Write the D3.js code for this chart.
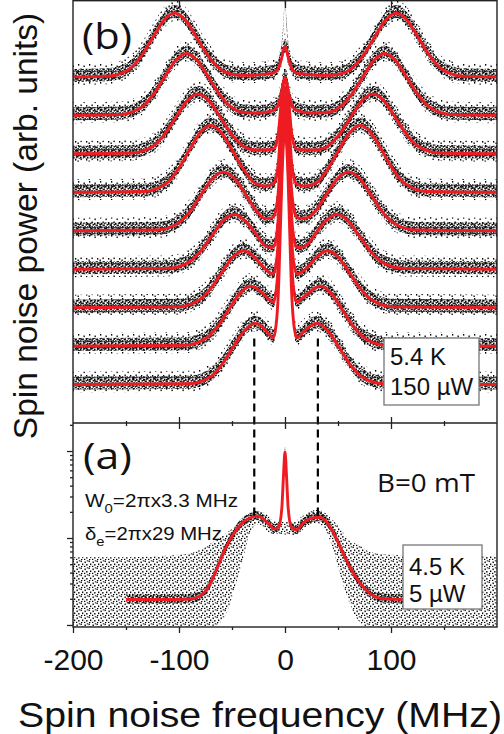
<!DOCTYPE html>
<html><head><meta charset="utf-8">
<script src="https://cdn.jsdelivr.net/npm/d3@7"></script>
<style>body{margin:0;background:#fff}svg{display:block}</style>
</head><body><svg id="c" width="504" height="734"></svg>
<script>
// ---------- data ----------
const xTicksMajor = [-200, -100, 0, 100];
const xTicksMinor = [-150, -50, 50, 150];
const xTickLabels = ["-200", "-100", "0", "100"];
const topTicks = [-100, 0, 100];
const logTicksMajor = [0.1, 1, 10];
const logTicksMinor = [0.2,0.3,0.4,0.5,0.6,0.7,0.8,0.9,2,3,4,5,6,7,8,9,20];

// panel (b): vertical offsets of the stacked spectra (top to bottom)
const offsetsB = [9, 8, 7, 6, 5, 4, 3, 2, 1];

// panel (b) fit curves: [frequency MHz, signal above own baseline]
const trace1 = [[-200,0],[-167,0.02],[-146,0.22],[-135,0.57],[-125,1.01],[-114,1.48],[-104,1.66],[-94,1.48],[-83,1.01],[-73,0.57],[-62,0.22],[-50,0.07],[-35,0.04],[-20,0.07],[-11,0.10],[-8,0.16],[-6,0.24],[-4.5,0.36],[-3,0.51],[-1.5,0.69],[0,0.79],[1.5,0.69],[3,0.51],[4.5,0.36],[6,0.24],[8,0.16],[11,0.10],[20,0.07],[35,0.04],[51,0.07],[63,0.22],[74,0.57],[84,1.01],[95,1.48],[105,1.66],[115,1.48],[126,1.01],[136,0.57],[147,0.22],[168,0.02],[200,0]];
const trace2 = [[-200,0],[-156,0.02],[-135,0.22],[-124,0.55],[-114,0.98],[-103,1.43],[-93,1.61],[-83,1.43],[-72,0.98],[-62,0.55],[-51,0.22],[-40,0.08],[-25,0.06],[-11,0.13],[-8,0.20],[-6,0.30],[-4.5,0.45],[-3,0.64],[-1.5,0.85],[0,0.98],[1.5,0.85],[3,0.64],[4.5,0.45],[6,0.30],[8,0.20],[11,0.13],[25,0.06],[41,0.08],[52,0.22],[63,0.55],[73,0.98],[84,1.43],[94,1.61],[104,1.43],[115,0.98],[125,0.55],[136,0.22],[157,0.02],[200,0]];
const trace3 = [[-200,0],[-145,0.02],[-124,0.21],[-113,0.53],[-103,0.95],[-92,1.39],[-82,1.56],[-72,1.39],[-61,0.95],[-51,0.53],[-40,0.21],[-28,0.10],[-18,0.10],[-11,0.13],[-8,0.28],[-6,0.59],[-4.5,1.06],[-3,1.52],[-1.5,1.85],[0,1.98],[1.5,1.85],[3,1.52],[4.5,1.06],[6,0.59],[8,0.28],[11,0.13],[18,0.10],[28,0.10],[41,0.21],[52,0.53],[62,0.95],[73,1.39],[83,1.56],[93,1.39],[104,0.95],[114,0.53],[125,0.21],[146,0.02],[200,0]];
const trace4 = [[-200,0],[-133,0.02],[-112,0.23],[-101,0.59],[-91,1.06],[-80,1.55],[-70,1.74],[-60,1.55],[-49,1.06],[-39,0.59],[-28,0.23],[-18,0.16],[-11,0.22],[-8,0.42],[-6,0.85],[-4.5,1.48],[-3,2.10],[-1.5,2.55],[0,2.73],[1.5,2.55],[3,2.10],[4.5,1.48],[6,0.85],[8,0.42],[11,0.22],[18,0.16],[29,0.23],[40,0.59],[50,1.06],[61,1.55],[71,1.74],[81,1.55],[92,1.06],[102,0.59],[113,0.23],[134,0.02],[200,0]];
const trace5 = [[-200,0],[-121,0.02],[-100,0.21],[-89,0.52],[-79,0.94],[-68,1.37],[-58,1.53],[-48,1.37],[-37,0.94],[-27,0.52],[-19,0.32],[-14,0.32],[-11,0.36],[-8,0.61],[-6,1.14],[-4.5,1.93],[-3,2.71],[-1.5,3.27],[0,3.49],[1.5,3.27],[3,2.71],[4.5,1.93],[6,1.14],[8,0.61],[11,0.36],[14,0.32],[20,0.33],[29,0.52],[39,0.94],[50,1.37],[60,1.53],[70,1.37],[81,0.94],[91,0.52],[102,0.21],[123,0.02],[200,0]];
const trace6 = [[-200,0],[-111,0.02],[-90,0.19],[-79,0.49],[-69,0.87],[-58,1.27],[-48,1.43],[-38,1.27],[-27,0.90],[-20,0.64],[-14,0.56],[-11,0.58],[-8,0.87],[-6,1.50],[-4.5,2.41],[-3,3.33],[-1.5,3.98],[0,4.24],[1.5,3.98],[3,3.33],[4.5,2.41],[6,1.50],[8,0.87],[11,0.58],[14,0.56],[21,0.64],[28,0.90],[39,1.27],[49,1.43],[59,1.27],[70,0.87],[80,0.49],[91,0.19],[112,0.02],[200,0]];
const trace7 = [[-200,0],[-102,0.02],[-81,0.20],[-70,0.50],[-60,0.90],[-49,1.32],[-39,1.48],[-29,1.32],[-20,1.04],[-14,0.90],[-11,0.88],[-8,1.21],[-6,1.92],[-4.5,2.95],[-3,3.99],[-1.5,4.73],[0,5.02],[1.5,4.73],[3,3.99],[4.5,2.95],[6,1.92],[8,1.21],[11,0.88],[14,0.90],[21,1.04],[30,1.32],[40,1.48],[50,1.32],[61,0.90],[71,0.50],[82,0.20],[103,0.02],[200,0]];
const trace8 = [[-200,0],[-95,0.02],[-74,0.21],[-63,0.53],[-53,0.95],[-42,1.39],[-32,1.56],[-22,1.40],[-16,1.24],[-11,1.14],[-8,1.52],[-6,2.32],[-4.5,3.50],[-3,4.67],[-1.5,5.52],[0,5.85],[1.5,5.52],[3,4.67],[4.5,3.50],[6,2.32],[8,1.52],[11,1.14],[16,1.24],[23,1.40],[33,1.56],[43,1.39],[54,0.95],[64,0.53],[75,0.21],[96,0.02],[200,0]];
const trace9 = [[-200,0],[-91,0.02],[-70,0.21],[-59,0.54],[-49,0.97],[-38,1.41],[-28,1.59],[-20,1.46],[-15,1.30],[-11,1.22],[-8,1.65],[-6,2.57],[-4.5,3.93],[-3,5.28],[-1.5,6.25],[0,6.63],[1.5,6.25],[3,5.28],[4.5,3.93],[6,2.57],[8,1.65],[11,1.22],[15,1.30],[21,1.46],[30,1.59],[40,1.41],[51,0.97],[61,0.54],[72,0.21],[93,0.02],[200,0]];
const tracesB = [trace1, trace2, trace3, trace4, trace5, trace6, trace7, trace8, trace9];
// measured data spike of the top spectrum (reaches the frame)
const spikeData1 = [[-8,0.25],[-5,0.5],[-3,0.85],[-1.5,1.35],[0,2.0],[1.5,1.35],[3,0.85],[5,0.5],[8,0.25]];

// panel (a): fit (log scale values)
const fitA = [[-150,0.196],[-120,0.196],[-90,0.199],[-80,0.216],[-74,0.253],[-68,0.347],[-62,0.516],[-56,0.768],[-50,1.05],[-44,1.34],[-38,1.57],[-32,1.72],[-27,1.79],[-21,1.68],[-15,1.43],[-10,1.27],[-6,1.34],[-3,2.2],[-1.5,5.0],[0,9.74],[1.5,5.0],[3,2.2],[6,1.34],[11,1.24],[17,1.48],[27,1.71],[33,1.73],[39,1.54],[46,1.13],[52,0.79],[61,0.468],[71,0.301],[80,0.231],[90,0.203],[108,0.197],[150,0.196]];
// panel (a): measured noise envelope [frequency, upper, lower]
const scatterA = [[-200,0.60,0.095],[-150,0.60,0.095],[-100,0.64,0.095],[-85,0.69,0.095],[-75,0.79,0.095],[-65,0.95,0.10],[-55,1.14,0.14],[-48,1.34,0.25],[-40,1.61,0.56],[-32,1.99,1.24],[-25,2.04,1.45],[-18,1.89,1.24],[-12,1.61,1.11],[-8,1.53,1.11],[8,1.53,1.08],[14,1.70,1.17],[22,1.99,1.41],[30,2.10,1.49],[38,1.94,1.24],[45,1.61,0.77],[52,1.30,0.38],[60,0.95,0.19],[70,0.83,0.11],[80,0.69,0.095],[100,0.64,0.095],[150,0.62,0.095],[200,0.62,0.095]];

// dashed guide lines
const dashF = [-29, 31];
const dashTopB = 2.2;     // panel (b) units
const dashBottomA = 1.79; // panel (a) units

// ---------- drawing ----------
const FONT = "'Liberation Sans', Arial, sans-serif";
const RED = "#ee1c22";
const svg = d3.select("#c");
const L = 73, R = 497, T = 0, MID = 423, B = 627;
const x = d3.scaleLinear().domain([-200, 200]).range([L, R]);
const yB = d3.scaleLinear().domain([0, 11]).range([MID, T]);
const yA = d3.scaleLog().domain([0.0948, 21]).range([B, MID]);

const defs = svg.append("defs");
defs.append("clipPath").attr("id", "clipB").append("rect").attr("x", L).attr("y", T).attr("width", R - L).attr("height", MID - T);
defs.append("clipPath").attr("id", "clipA").append("rect").attr("x", L).attr("y", MID).attr("width", R - L).attr("height", B - MID);
function pattern(id, w, h, dots) {
  const p = defs.append("pattern").attr("id", id).attr("patternUnits", "userSpaceOnUse").attr("width", w).attr("height", h);
  dots.forEach(d => p.append("rect").attr("x", d[0]).attr("y", d[1]).attr("width", d[2] || 1.3).attr("height", d[3] || 1.6).attr("fill", "#000"));
}
pattern("dense", 7, 6, [[0,0],[3,0.6,1.5,2.2],[1.6,2],[4.6,2.6],[0.4,4,1.4,2],[3.1,4.2],[5.6,4.6],[2,5.2],[5.8,0.2],[6.2,2.4,0.8],[1.4,0.2,1,1],[4.2,5.4,1,1.2]]);
pattern("medium", 8, 7, [[0.5,0.5],[4.5,1.5],[2,3.5],[6.2,4],[1,6],[4,5.8],[6.8,0.2,1,1.2]]);
pattern("sparse", 11, 9, [[1,1],[6.5,2.5],[3.5,5.5],[9,6],[0.5,7.5]]);

// panel (b)
const gB = svg.append("g").attr("clip-path", "url(#clipB)");
function bandB(k, lo, hi) {
  return d3.area().x(d => x(d[0])).y0(d => yB(k + d[1]) + lo).y1(d => yB(k + d[1]) + hi).curve(d3.curveMonotoneX);
}
tracesB.forEach((tr, i) => {
  const k = offsetsB[i];
  gB.append("path").attr("d", bandB(k, 8, -13)(tr)).attr("fill", "url(#sparse)");
  gB.append("path").attr("d", bandB(k, 5, -8)(tr)).attr("fill", "url(#dense)");
});
gB.append("path").attr("d", bandB(offsetsB[0], 3, -3)(spikeData1)).attr("fill", "url(#dense)");
tracesB.forEach((tr, i) => {
  const k = offsetsB[i];
  gB.append("path").attr("d", d3.line().x(d => x(d[0])).y(d => yB(k + d[1])).curve(d3.curveMonotoneX)(tr))
    .attr("fill", "none").attr("stroke", RED).attr("stroke-width", 2.9).attr("stroke-linejoin", "round");
});

// panel (a)
const gA = svg.append("g").attr("clip-path", "url(#clipA)");
gA.append("path").attr("d", d3.area().x(d => x(d[0])).y0(d => yA(d[2])).y1(d => yA(d[1])).curve(d3.curveMonotoneX)(scatterA)).attr("fill", "url(#medium)");
gA.append("path").attr("d", d3.area().x(d => x(d[0])).y0(d => yA(d[1]) + 4).y1(d => yA(d[1]) - 5).curve(d3.curveMonotoneX)(fitA)).attr("fill", "url(#dense)");
gA.append("path").attr("d", d3.line().x(d => x(d[0])).y(d => yA(d[1])).curve(d3.curveMonotoneX)(fitA))
  .attr("fill", "none").attr("stroke", RED).attr("stroke-width", 2.9).attr("stroke-linejoin", "round");

// dashed guide lines
svg.selectAll("line.dash").data(dashF).join("line").attr("class", "dash")
  .attr("x1", d => x(d)).attr("x2", d => x(d)).attr("y1", yB(dashTopB)).attr("y2", yA(dashBottomA))
  .attr("stroke", "#000").attr("stroke-width", 2.2).attr("stroke-dasharray", "8,5");

// frame
const frame = svg.append("g").attr("stroke", "#222").attr("stroke-width", 1.4).attr("fill", "none");
frame.append("rect").attr("x", L).attr("y", T + 0.7).attr("width", R - L).attr("height", B - T - 0.7);
frame.append("line").attr("x1", L).attr("x2", R).attr("y1", MID).attr("y2", MID);

function styleAxis(g) {
  g.select(".domain").remove();
  g.selectAll(".tick line").attr("stroke", "#222").attr("stroke-width", 1.3);
}
// top axis ticks (inward)
svg.append("g").attr("transform", `translate(0,${T})`).call(d3.axisBottom(x).tickValues(topTicks).tickSize(8).tickFormat("")).call(styleAxis);
// divider ticks (crossing)
svg.append("g").attr("transform", `translate(0,${MID})`).call(d3.axisBottom(x).tickValues(topTicks).tickSize(6).tickFormat("")).call(styleAxis);
svg.append("g").attr("transform", `translate(0,${MID})`).call(d3.axisTop(x).tickValues(topTicks).tickSize(6).tickFormat("")).call(styleAxis);
svg.append("g").attr("transform", `translate(0,${MID})`).call(d3.axisBottom(x).tickValues(xTicksMinor).tickSize(3).tickFormat("")).call(styleAxis);
svg.append("g").attr("transform", `translate(0,${MID})`).call(d3.axisTop(x).tickValues(xTicksMinor).tickSize(2).tickFormat("")).call(styleAxis);
// bottom axis
const bottomAxis = svg.append("g").attr("transform", `translate(0,${B})`)
  .call(d3.axisBottom(x).tickValues(xTicksMajor).tickSize(6).tickPadding(16).tickFormat((d, i) => xTickLabels[i])).call(styleAxis);
bottomAxis.selectAll("text").attr("font-family", FONT).attr("font-size", 30).attr("fill", "#111");
svg.append("g").attr("transform", `translate(0,${B})`).call(d3.axisBottom(x).tickValues(xTicksMinor).tickSize(3).tickFormat("")).call(styleAxis);
// left log axis of panel (a)
svg.append("g").attr("transform", `translate(${L},0)`).call(d3.axisLeft(yA).tickValues(logTicksMajor).tickSize(6).tickFormat("")).call(styleAxis);
svg.append("g").attr("transform", `translate(${L},0)`).call(d3.axisLeft(yA).tickValues(logTicksMinor).tickSize(3).tickFormat("")).call(styleAxis);

// legend boxes
function box(bx, by, bw, bh, lines) {
  svg.append("rect").attr("x", bx).attr("y", by).attr("width", bw).attr("height", bh)
    .attr("fill", "#fff").attr("stroke", "#777").attr("stroke-width", 1.3);
  lines.forEach(l => svg.append("text").attr("x", bx + 6).attr("y", by + l[1]).attr("font-family", FONT)
    .attr("font-size", 24).attr("fill", "#111").text(l[0]));
}
box(384, 338, 95, 67, [["5.4 K", 27], ["150 µW", 57]]);
box(403, 545, 79, 64, [["4.5 K", 30], ["5 µW", 57]]);

// labels
const txt = (tx, ty, s, size, len, fam) => svg.append("text").attr("x", tx).attr("y", ty).attr("font-family", fam || FONT)
  .attr("font-size", size).attr("fill", "#111").attr("textLength", len).attr("lengthAdjust", "spacingAndGlyphs").text(s);
txt(82, 49, "(b)", 36, 50, "'Open Sans', " + FONT);
txt(83, 469, "(a)", 36, 49, "'Open Sans', " + FONT);
txt(377, 492, "B=0 mT", 25, 98, "'Open Sans', " + FONT);

const w0 = svg.append("text").attr("x", 85).attr("y", 507).attr("font-family", FONT).attr("font-size", 18).attr("fill", "#111")
  .attr("textLength", 153).attr("lengthAdjust", "spacingAndGlyphs");
w0.append("tspan").text("W");
w0.append("tspan").attr("dy", 6).attr("font-size", 13).text("0");
w0.append("tspan").attr("dy", -6).text("=2πx3.3 MHz");
const de = svg.append("text").attr("x", 85).attr("y", 540).attr("font-family", FONT).attr("font-size", 18).attr("fill", "#111")
  .attr("textLength", 137).attr("lengthAdjust", "spacingAndGlyphs");
de.append("tspan").text("δ");
de.append("tspan").attr("dy", 6).attr("font-size", 13).text("e");
de.append("tspan").attr("dy", -6).text("=2πx29 MHz");

// axis titles
svg.append("text").attr("x", 260).attr("y", 727).attr("text-anchor", "middle").attr("font-family", FONT)
  .attr("font-size", 35).attr("fill", "#111").attr("textLength", 484).attr("lengthAdjust", "spacingAndGlyphs")
  .text("Spin noise frequency (MHz)");
svg.append("text").attr("transform", "translate(37,226) rotate(-90)").attr("text-anchor", "middle").attr("font-family", FONT)
  .attr("font-size", 33.5).attr("fill", "#111")
  .text("Spin noise power (arb. units)");
</script></body></html>
